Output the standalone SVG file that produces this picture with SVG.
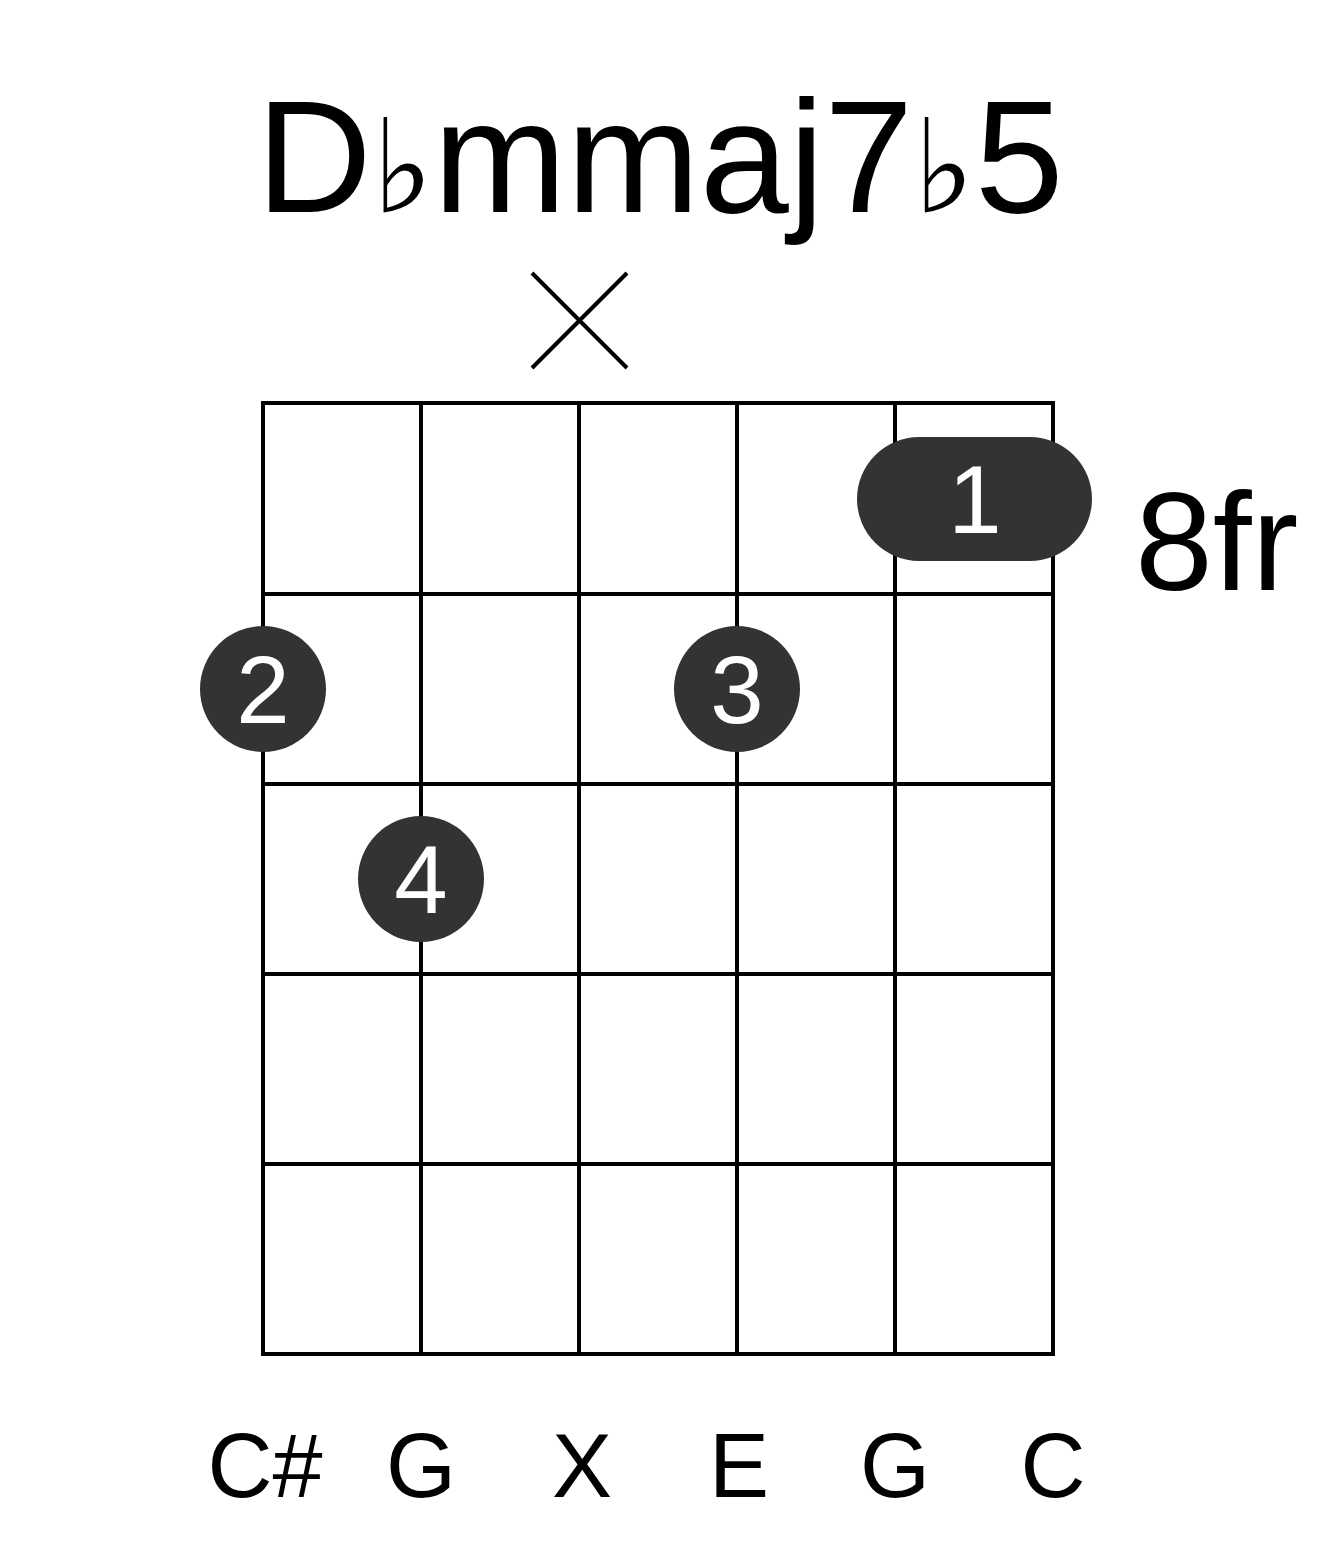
<svg xmlns="http://www.w3.org/2000/svg" width="1317" height="1551" viewBox="0 0 1317 1551">
<style>
.g{stroke:#000;stroke-width:4;fill:none}
.t{font-family:"Liberation Sans","DejaVu Sans",sans-serif}
.dot{fill:#333}
.fn{fill:#fff;font-size:96px;text-anchor:middle}
.lb{font-size:90px;text-anchor:middle}
</style>
<rect width="1317" height="1551" fill="#fff"/>
<text class="t" x="660" y="212" font-size="160" text-anchor="middle">D<tspan font-family="DejaVu Sans" font-size="130">♭</tspan>mmaj7<tspan font-family="DejaVu Sans" font-size="130">♭</tspan>5</text>
<g id="grid" class="g">
<rect x="263" y="403" width="790" height="951"/>
<path d="M421 403V1354M579 403V1354M737 403V1354M895 403V1354M263 594H1053M263 784H1053M263 974H1053M263 1164H1053"/>
</g>
<g id="mute" class="g" stroke-width="4"><path d="M532 273L627 368M627 273L532 368"/></g>
<g id="f1"><rect class="dot" x="857" y="437" width="235" height="124" rx="62"/><text class="t fn" x="975" y="533">1</text></g>
<g id="f2"><circle class="dot" cx="263" cy="689" r="63"/><text class="t fn" x="263" y="723">2</text></g>
<g id="f3"><circle class="dot" cx="737" cy="689" r="63"/><text class="t fn" x="737" y="723">3</text></g>
<g id="f4"><circle class="dot" cx="421" cy="879" r="63"/><text class="t fn" x="421" y="913">4</text></g>
<text class="t" x="1135" y="590" font-size="140">8fr</text>
<g id="labels" class="t">
<text class="lb" x="265" y="1497">C#</text>
<text class="lb" x="421" y="1497">G</text>
<text class="lb" x="582" y="1497">X</text>
<text class="lb" x="739" y="1497">E</text>
<text class="lb" x="895" y="1497">G</text>
<text class="lb" x="1053" y="1497">C</text>
</g>
</svg>
